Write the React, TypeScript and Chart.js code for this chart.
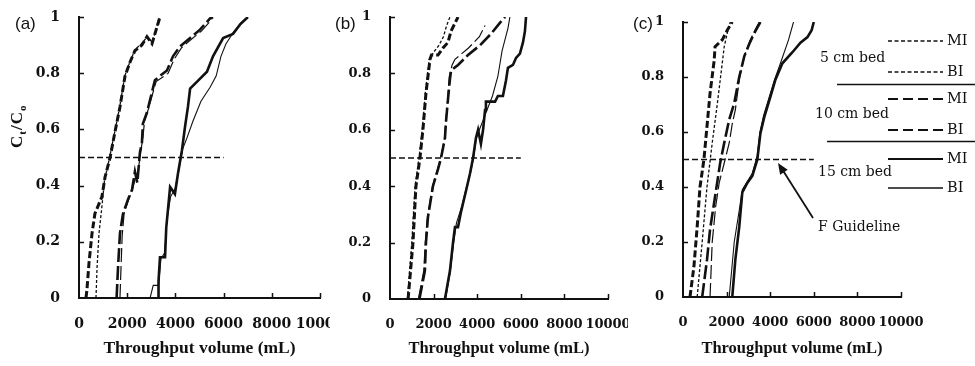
import React, { useEffect, useRef } from "react";
import { Chart, registerables } from "chart.js";
Chart.register(...registerables);

// ---------------- data ----------------
const X_TICKS = [0, 2000, 4000, 6000, 8000, 10000];
const Y_TICKS = [0, 0.2, 0.4, 0.6, 0.8, 1];
const GUIDELINE_X = [0, 6000];
const GUIDELINE_Y = 0.5;
const X_TITLE = "Throughput volume (mL)";
const PANEL_LABELS = ["(a)", "(b)", "(c)"];
const LEGEND_BEDS = ["5 cm bed", "10 cm bed", "15 cm bed"];
const LEGEND_TYPES = ["MI", "BI"];
const GUIDELINE_LABEL = "F Guideline";

// panel (a)
const A_5MI = [[290,0],[330,0.03],[415,0.125],[540,0.23],[660,0.3],[950,0.36],[1080,0.43],[1290,0.5],[1490,0.59],[1700,0.68],[1910,0.79],[2120,0.84],[2320,0.88],[2610,0.9],[2820,0.93],[3030,0.905],[3150,0.94],[3360,1]];
const A_5BI = [[705,0],[750,0.11],[830,0.23],[950,0.325],[1060,0.42],[1270,0.5],[1480,0.59],[1690,0.68],[1900,0.79],[2110,0.84],[2330,0.885],[2600,0.905],[2830,0.93],[3040,0.91],[3160,0.945],[3340,1]];
const A_10MI = [[1560,0],[1620,0.11],[1700,0.23],[1825,0.3],[2030,0.35],[2200,0.385],[2320,0.45],[2420,0.41],[2480,0.47],[2530,0.52],[2610,0.55],[2650,0.62],[2820,0.66],[2950,0.705],[3150,0.775],[3360,0.79],[3650,0.81],[3900,0.86],[4190,0.895],[4610,0.925],[5020,0.955],[5440,0.995],[5560,1]];
const A_10BI = [[1700,0],[1740,0.1],[1790,0.22],[1870,0.3],[2060,0.35],[2230,0.39],[2350,0.43],[2450,0.45],[2560,0.52],[2650,0.57],[2720,0.63],[2870,0.67],[3000,0.71],[3200,0.77],[3450,0.785],[3700,0.8],[3950,0.85],[4250,0.89],[4650,0.92],[5080,0.95],[5500,0.99],[5540,1]];
const A_15MI = [[3280,0],[3300,0.06],[3360,0.145],[3570,0.145],[3620,0.25],[3780,0.395],[3980,0.37],[4110,0.445],[4270,0.525],[4400,0.61],[4520,0.68],[4610,0.745],[4900,0.77],[5310,0.805],[5560,0.86],[5980,0.925],[6390,0.94],[6700,0.975],[7010,1]];
const A_15BI = [[2950,0],[3080,0.045],[3300,0.045],[3400,0.14],[3550,0.16],[3650,0.28],[3800,0.36],[3990,0.39],[4130,0.45],[4300,0.53],[4480,0.57],[4730,0.63],[5060,0.7],[5440,0.75],[5690,0.79],[5890,0.86],[6100,0.905],[6400,0.945],[6720,0.98],[7000,1]];

// panel (b)
const B_5MI = [[830,0],[1055,0.2],[1190,0.4],[1375,0.5],[1510,0.6],[1650,0.73],[1835,0.85],[1900,0.865],[2200,0.865],[2430,0.89],[2660,0.91],[2800,0.95],[3120,1]];
const B_5BI = [[800,0],[1000,0.2],[1150,0.4],[1330,0.5],[1480,0.6],[1620,0.73],[1800,0.85],[2000,0.875],[2250,0.9],[2450,0.93],[2600,0.97],[2750,1]];
const B_10MI = [[1350,0],[1600,0.1],[1650,0.2],[1740,0.29],[1970,0.4],[2200,0.46],[2340,0.5],[2520,0.57],[2570,0.63],[2650,0.7],[2750,0.78],[2800,0.81],[3120,0.83],[3580,0.865],[4130,0.9],[4630,0.94],[5050,0.98],[5280,1]];
const B_10BI = [[1300,0],[1550,0.1],[1620,0.2],[1720,0.29],[1950,0.4],[2180,0.46],[2330,0.5],[2500,0.57],[2560,0.63],[2640,0.7],[2720,0.79],[2850,0.83],[2980,0.85],[3600,0.89],[4100,0.93],[4360,0.97]];
const B_15MI = [[2520,0],[2750,0.1],[2890,0.2],[2980,0.255],[3120,0.255],[3260,0.31],[3490,0.385],[3670,0.445],[3810,0.5],[3940,0.57],[4040,0.6],[4170,0.55],[4270,0.6],[4360,0.67],[4400,0.7],[4820,0.7],[4950,0.72],[5180,0.72],[5320,0.775],[5410,0.82],[5640,0.83],[5780,0.855],[5960,0.87],[6100,0.91],[6190,0.95],[6240,1]];
const B_15BI = [[2550,0],[2770,0.1],[2920,0.2],[3050,0.27],[3300,0.33],[3520,0.4],[3700,0.45],[3830,0.5],[3960,0.57],[4100,0.6],[4250,0.63],[4450,0.67],[4700,0.72],[4950,0.79],[5140,0.88],[5410,0.96],[5500,1]];

// panel (c)
const C_5MI = [[320,0],[500,0.11],[650,0.255],[780,0.4],[960,0.5],[1100,0.62],[1240,0.74],[1430,0.86],[1470,0.91],[1800,0.935],[2030,0.97],[2260,1]];
const C_5BI = [[650,0],[880,0.2],[1100,0.4],[1340,0.56],[1570,0.7],[1800,0.85],[1890,0.91],[2030,0.96],[2170,1]];
const C_10MI = [[880,0],[1100,0.135],[1240,0.245],[1470,0.365],[1700,0.485],[1890,0.56],[2120,0.645],[2350,0.705],[2580,0.8],[2810,0.875],[3040,0.92],[3270,0.96],[3550,1]];
const C_10BI = [[1240,0],[1340,0.2],[1500,0.33],[1660,0.415],[1900,0.49],[2120,0.56],[2260,0.63],[2400,0.68],[2600,0.8],[2830,0.88],[3060,0.93],[3300,0.97],[3500,1]];
const C_15MI = [[2260,0],[2400,0.135],[2580,0.255],[2720,0.38],[2950,0.415],[3180,0.44],[3410,0.5],[3550,0.595],[3730,0.655],[3960,0.715],[4240,0.79],[4560,0.85],[5020,0.89],[5390,0.925],[5710,0.945],[5900,0.97],[6000,1]];
const C_15BI = [[2120,0],[2350,0.2],[2580,0.315],[2720,0.39],[2950,0.42],[3180,0.45],[3400,0.51],[3530,0.6],[3700,0.66],[3930,0.72],[4200,0.79],[4470,0.85],[4840,0.935],[5070,1]];

// ---------------- styles / layout ----------------
const INK = "#111";
const SERIES_STYLE = [
  { w: 3.0, dash: [7, 3] },   // 5 cm MI
  { w: 1.3, dash: [3, 2] },   // 5 cm BI
  { w: 2.6, dash: [14, 4] },  // 10 cm MI
  { w: 1.2, dash: [14, 4] },  // 10 cm BI
  { w: 2.6, dash: [] },       // 15 cm MI
  { w: 1.1, dash: [] },       // 15 cm BI
];
const LEGEND_STYLE = [
  { w: 1.5, dash: [4, 2.5] },
  { w: 1.5, dash: [4, 2.5] },
  { w: 1.8, dash: [10, 5] },
  { w: 1.8, dash: [10, 5] },
  { w: 2.2, dash: [] },
  { w: 1.5, dash: [] },
];

const PANELS = [
  { left: 0, width: 330, area: { l: 79, r: 320, t: 17, b: 298 }, series: [A_5MI, A_5BI, A_10MI, A_10BI, A_15MI, A_15BI], titleSize: 17.5, tickSize: 14, labelX: 15, yTitle: true, legend: false },
  { left: 330, width: 298, area: { l: 390, r: 608, t: 17, b: 299 }, series: [B_5MI, B_5BI, B_10MI, B_10BI, B_15MI, B_15BI], titleSize: 16.5, tickSize: 13, labelX: 335, yTitle: false, legend: false },
  { left: 628, width: 347, area: { l: 683, r: 901, t: 22, b: 297 }, series: [C_5MI, C_5BI, C_10MI, C_10BI, C_15MI, C_15BI], titleSize: 16.5, tickSize: 13, labelX: 633, yTitle: false, legend: true },
];
const H = 366;

function makePlugin(p: any, idx: number) {
  return {
    id: "decor" + idx,
    afterDraw(chart: any) {
      const ctx = chart.ctx;
      const xs = chart.scales.x;
      const ys = chart.scales.y;
      const ca = chart.chartArea;
      const off = p.left;
      ctx.save();
      // inside tick marks
      ctx.strokeStyle = INK;
      ctx.lineWidth = 1.5;
      ctx.setLineDash([]);
      ctx.beginPath();
      for (const v of X_TICKS) {
        if (v === 0) continue;
        const px = Math.round(xs.getPixelForValue(v)) + 0.5;
        ctx.moveTo(px, ca.bottom);
        ctx.lineTo(px, ca.bottom - 5);
      }
      for (const v of Y_TICKS) {
        if (v === 0) continue;
        const py = Math.round(ys.getPixelForValue(v)) + 0.5;
        ctx.moveTo(ca.left, py);
        ctx.lineTo(ca.left + 5, py);
      }
      ctx.stroke();
      // panel label
      ctx.fillStyle = INK;
      ctx.font = "17px 'Liberation Sans', Arial, sans-serif";
      ctx.textAlign = "left";
      ctx.textBaseline = "middle";
      ctx.fillText(PANEL_LABELS[idx], p.labelX - off, 24);
      // y title with subscripts
      if (p.yTitle) {
        ctx.save();
        ctx.translate(22 - off, 148);
        ctx.rotate(-Math.PI / 2);
        ctx.textBaseline = "alphabetic";
        ctx.textAlign = "left";
        const big = "bold 17px 'Liberation Serif', serif";
        const small = "bold 11px 'Liberation Serif', serif";
        let x = 0;
        const parts: [string, string, number][] = [["C", big, 0], ["t", small, 4], ["/", big, 0], ["C", big, 0], ["o", small, 4]];
        for (const [t, f, dy] of parts) {
          ctx.font = f;
          ctx.fillText(t, x, dy);
          x += ctx.measureText(t).width + 1;
        }
        ctx.restore();
      }
      // legend + annotation
      if (p.legend) {
        const lx0 = 888 - off, lx1 = 943 - off;
        const rows = [41, 72, 99, 130, 159, 188];
        for (let i = 0; i < 6; i++) {
          const st = LEGEND_STYLE[i];
          ctx.strokeStyle = INK;
          ctx.lineWidth = st.w;
          ctx.setLineDash(st.dash);
          ctx.beginPath();
          ctx.moveTo(lx0, rows[i]);
          ctx.lineTo(lx1, rows[i]);
          ctx.stroke();
          ctx.setLineDash([]);
          ctx.font = "14.5px 'DejaVu Serif', serif";
          ctx.textAlign = "left";
          ctx.textBaseline = "middle";
          ctx.fillText(LEGEND_TYPES[i % 2], 947 - off, rows[i]);
        }
        ctx.font = "14px 'DejaVu Serif', serif";
        ctx.fillText(LEGEND_BEDS[0], 820 - off, 58);
        ctx.fillText(LEGEND_BEDS[1], 815 - off, 114);
        ctx.fillText(LEGEND_BEDS[2], 818 - off, 172);
        // separators
        ctx.lineWidth = 1.6;
        ctx.setLineDash([]);
        ctx.beginPath();
        ctx.moveTo(837 - off, 84.5);
        ctx.lineTo(975 - off, 84.5);
        ctx.moveTo(827 - off, 141.5);
        ctx.lineTo(975 - off, 141.5);
        ctx.stroke();
        // F Guideline label + arrow
        ctx.fillText(GUIDELINE_LABEL, 818 - off, 227);
        const ax0 = 813 - off, ay0 = 218, ax1 = 778 - off, ay1 = 163;
        ctx.lineWidth = 1.8;
        ctx.beginPath();
        ctx.moveTo(ax0, ay0);
        ctx.lineTo(ax1 + 4, ay1 + 6);
        ctx.stroke();
        const ang = Math.atan2(ay1 - ay0, ax1 - ax0);
        const hl = 11, hw = 4.5;
        ctx.beginPath();
        ctx.moveTo(ax1, ay1);
        ctx.lineTo(ax1 - hl * Math.cos(ang) + hw * Math.sin(ang), ay1 - hl * Math.sin(ang) - hw * Math.cos(ang));
        ctx.lineTo(ax1 - hl * Math.cos(ang) - hw * Math.sin(ang), ay1 - hl * Math.sin(ang) + hw * Math.cos(ang));
        ctx.closePath();
        ctx.fill();
      }
      ctx.restore();
    },
  };
}

function zeroPad(s: any) {
  s.paddingLeft = 0;
  s.paddingRight = 0;
  s.paddingTop = 0;
  s.paddingBottom = 0;
}

function makeConfig(p: any, idx: number) {
  const datasets: any[] = p.series.map((s: number[][], i: number) => ({
    data: s.map(([x, y]) => ({ x, y })),
    showLine: true,
    borderColor: INK,
    backgroundColor: INK,
    borderWidth: SERIES_STYLE[i].w,
    borderDash: SERIES_STYLE[i].dash,
    pointRadius: 0,
    tension: 0,
    fill: false,
  }));
  datasets.push({
    data: GUIDELINE_X.map((x) => ({ x, y: GUIDELINE_Y })),
    showLine: true,
    borderColor: INK,
    borderWidth: 1.6,
    borderDash: [6, 3],
    pointRadius: 0,
    fill: false,
  });
  const a = p.area;
  const tickFont = { family: "'DejaVu Serif', serif", size: p.tickSize, weight: "bold" };
  return {
    type: "scatter",
    data: { datasets },
    options: {
      animation: false,
      responsive: false,
      maintainAspectRatio: false,
      layout: { autoPadding: false, padding: { left: 0, top: a.t, right: p.left + p.width - a.r, bottom: 0 } },
      plugins: { legend: { display: false }, tooltip: { enabled: false } },
      scales: {
        x: {
          type: "linear",
          min: 0,
          max: 10000,
          afterBuildTicks: (s: any) => { s.ticks = X_TICKS.map((v) => ({ value: v })); },
          afterFit: (s: any) => { s.height = H - a.b; zeroPad(s); },
          grid: { display: false, drawTicks: false, tickLength: 0 },
          border: { display: true, color: INK, width: 2 },
          ticks: { color: INK, font: tickFont, padding: 18, maxRotation: 0, autoSkip: false, callback: (v: any) => String(v) },
          title: { display: true, text: X_TITLE, color: INK, font: { family: "'Liberation Serif', serif", size: p.titleSize, weight: "bold" }, padding: { top: 0, bottom: 7 } },
        },
        y: {
          type: "linear",
          min: 0,
          max: 1,
          afterBuildTicks: (s: any) => { s.ticks = Y_TICKS.map((v) => ({ value: v })); },
          afterFit: (s: any) => { s.width = a.l - p.left; zeroPad(s); },
          grid: { display: false, drawTicks: false, tickLength: 0 },
          border: { display: true, color: INK, width: 2 },
          ticks: { color: INK, font: tickFont, padding: 19, autoSkip: false, callback: (v: any) => String(v) },
        },
      },
    },
    plugins: [makePlugin(p, idx)],
  };
}

function Panel({ p, idx }: { p: any; idx: number }) {
  const ref = useRef<HTMLCanvasElement>(null);
  useEffect(() => {
    if (!ref.current) return;
    const chart = new Chart(ref.current, makeConfig(p, idx) as any);
    return () => chart.destroy();
  }, [p, idx]);
  return (
    <canvas
      ref={ref}
      width={p.width}
      height={H}
      style={{ position: "absolute", left: p.left, top: 0, width: p.width, height: H }}
    />
  );
}

export default function App() {
  return (
    <div style={{ position: "absolute", left: 0, top: 0, width: 975, height: H, background: "#fff", overflow: "hidden" }}>
      {PANELS.map((p, i) => (
        <Panel key={i} p={p} idx={i} />
      ))}
    </div>
  );
}
